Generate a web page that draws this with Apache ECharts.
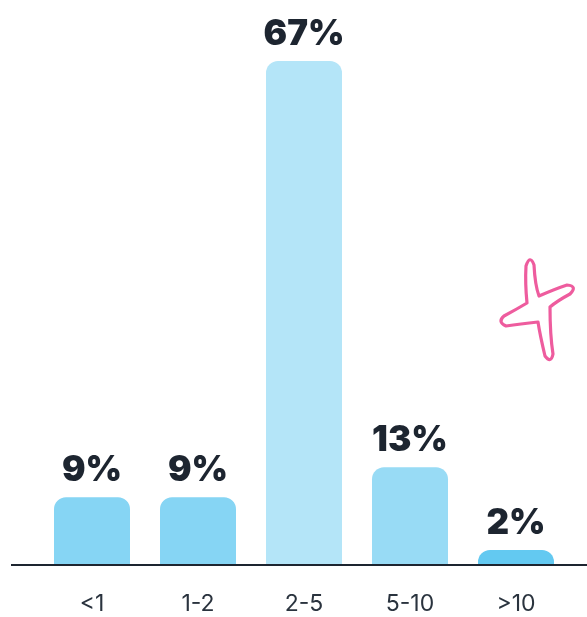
<!DOCTYPE html>
<html>
<head>
<meta charset="utf-8">
<script src="https://cdn.jsdelivr.net/npm/echarts@6/dist/echarts.min.js"></script>
<style>
  html, body { margin: 0; padding: 0; background: #ffffff; }
  #chart { width: 587px; height: 617px; }
</style>
</head>
<body>
<div id="chart"></div>
<script>
// Share of respondents per range
const categories = ['<1', '1-2', '2-5', '5-10', '>10'];
const shares = [9, 9, 67, 13, 2];
const barColors = ['#86d5f4', '#86d5f4', '#b4e5f8', '#98dbf5', '#63c9f1'];

// Pink sparkle outline, drawn in a 100x120 box placed at (490, 250)
const sparklePath = 'M 36 16 Q 40 4 44 15 Q 45 35 49 46 Q 65 39 77 35 Q 88 36 80 44 Q 67 51 60 57 Q 60 85 63 104 Q 61 114 55 106 Q 50 85 48 72 Q 30 74 16 76 Q 7 72 14 66 Q 27 59 37 53 Q 35 33 36 16 Z';
const sparkleSvg = '<svg xmlns="http://www.w3.org/2000/svg" width="100" height="120" viewBox="0 0 100 120">' +
  '<path d="' + sparklePath + '" fill="none" stroke="#ee5c9e" stroke-width="3.2" stroke-linejoin="round"/></svg>';

const chart = echarts.init(document.getElementById('chart'), null, { renderer: 'canvas' });

const option = {
  backgroundColor: '#ffffff',
  animation: false,
  grid: { left: 39, right: 18, top: 61, bottom: 52 },
  xAxis: {
    type: 'category',
    data: categories,
    axisLine: { show: false },
    axisTick: { show: false },
    axisLabel: {
      margin: 28,
      fontFamily: 'Inter',
      fontSize: 23,
      fontWeight: 400,
      color: '#2a333e'
    }
  },
  yAxis: {
    type: 'value',
    min: 0,
    max: 67,
    show: false,
    splitLine: { show: false }
  },
  series: [{
    type: 'bar',
    barWidth: 76,
    data: shares.map((v, i) => ({
      value: v,
      itemStyle: { color: barColors[i], borderRadius: [12, 12, 0, 0] }
    })),
    label: {
      show: true,
      position: 'top',
      distance: 9,
      formatter: '{c}%',
      fontFamily: 'Inter',
      fontWeight: 900,
      fontSize: 35,
      color: '#1d2530'
    }
  }],
  graphic: [
    {
      // baseline running across the full width
      type: 'line',
      shape: { x1: 11, y1: 565, x2: 587, y2: 565 },
      style: { stroke: '#1d2530', lineWidth: 2 },
      z: 10
    },
    {
      type: 'image',
      left: 490,
      top: 250,
      style: {
        image: 'data:image/svg+xml;charset=utf-8,' + encodeURIComponent(sparkleSvg),
        width: 100,
        height: 120
      }
    }
  ]
};

chart.setOption(option);
</script>
</body>
</html>
